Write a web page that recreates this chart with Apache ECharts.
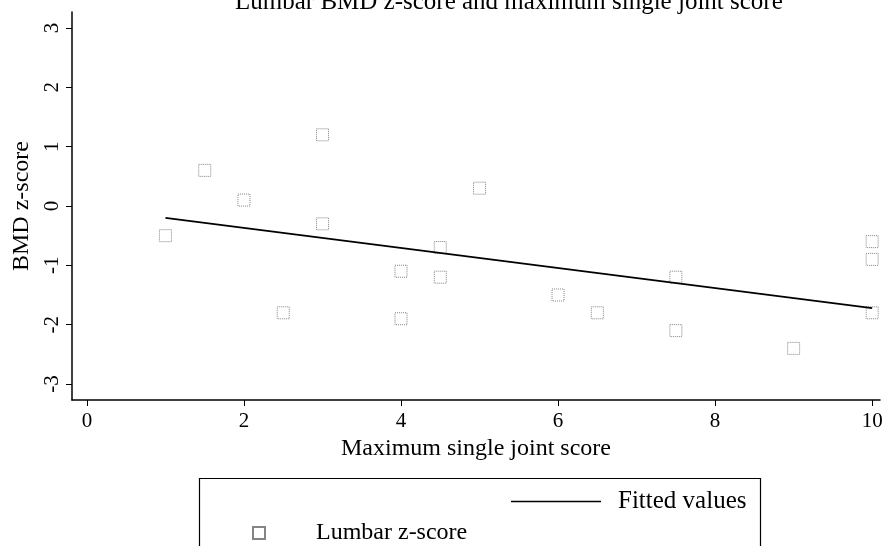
<!DOCTYPE html>
<html><head><meta charset="utf-8">
<script src="https://cdn.jsdelivr.net/npm/echarts@6/dist/echarts.min.js"></script>
<style>html,body{margin:0;padding:0;background:#fff}#c{width:887px;height:546px}</style>
</head><body><div id="c"></div>
<script>
const maxJointScore = [1, 1.5, 2, 2.5, 3, 3, 4, 4, 4.5, 4.5, 5, 6, 6.5, 7.5, 7.5, 9, 10, 10, 10];
const lumbarZ = [-0.5, 0.6, 0.1, -1.8, 1.2, -0.3, -1.1, -1.9, -0.7, -1.2, 0.3, -1.5, -1.8, -1.2, -2.1, -2.4, -0.6, -0.9, -1.8];
const fittedX = [1, 10];
const fittedY = [-0.2, -1.72];
const xTicks = [0, 2, 4, 6, 8, 10];
const yTicks = [-3, -2, -1, 0, 1, 2, 3];

const font = 'Liberation Serif';
const chart = echarts.init(document.getElementById('c'));
chart.setOption({
  animation: false,
  backgroundColor: '#fff',
  textStyle: { fontFamily: font, color: '#000' },
  title: {
    text: 'Lumbar BMD z-score and maximum single joint score',
    left: 230, top: -15,
    textStyle: { fontFamily: font, fontSize: 25, fontWeight: 'normal', color: '#000' }
  },
  grid: { left: 72, right: 7, top: 12, bottom: 146, containLabel: false, outerBoundsMode: 'none' },
  xAxis: {
    type: 'value', min: -0.19, max: 10.1,
    name: 'Maximum single joint score', nameLocation: 'middle', nameGap: 35,
    nameTextStyle: { fontFamily: font, fontSize: 24, color: '#000' },
    axisLine: { onZero: false, lineStyle: { color: '#000', width: 1.5 } },
    axisTick: { show: true, length: 6, lineStyle: { color: '#000' }, customValues: xTicks },
    axisLabel: { fontFamily: font, fontSize: 21, color: '#000', margin: 11, customValues: xTicks },
    splitLine: { show: false }
  },
  yAxis: {
    type: 'value', min: -3.27, max: 3.27,
    name: 'BMD z-score', nameLocation: 'middle', nameGap: 37,
    nameTextStyle: { fontFamily: font, fontSize: 24, color: '#000' },
    axisLine: { show: true, onZero: false, lineStyle: { color: '#000', width: 1.5 } },
    axisTick: { show: true, length: 6, lineStyle: { color: '#000' }, customValues: yTicks },
    axisLabel: { fontFamily: font, fontSize: 21, color: '#000', rotate: 90, margin: 9, customValues: yTicks },
    splitLine: { show: false }
  },
  legend: [
    {
      data: [{ name: 'Fitted values', icon: 'rect' }], left: 506, top: 484, itemWidth: 90, itemHeight: 1.5, itemGap: 8,
      itemStyle: { color: '#000' },
      textStyle: { fontFamily: font, fontSize: 25, color: '#000', padding: [0, 0, 0, 12] }
    },
    {
      data: [{ name: 'Lumbar z-score' }], left: 247, top: 516, itemWidth: 12, itemHeight: 12,
      textStyle: { fontFamily: font, fontSize: 24, color: '#000', padding: [0, 0, 0, 46] }
    }
  ],
  graphic: [
    { type: 'rect', left: 197, top: 476, shape: { width: 561, height: 80 }, style: { fill: 'none', stroke: '#000', lineWidth: 1.2 } }
  ],
  series: [
    {
      name: 'Lumbar z-score', type: 'scatter', symbol: 'rect', symbolSize: 12,
      itemStyle: { color: '#fff', borderColor: '#666', borderWidth: 1, borderType: 'dotted' },
      data: maxJointScore.map((x, i) => [x, lumbarZ[i]])
    },
    {
      name: 'Fitted values', type: 'line', symbol: 'none',
      lineStyle: { color: '#000', width: 1.8 },
      itemStyle: { color: '#000' },
      data: fittedX.map((x, i) => [x, fittedY[i]])
    }
  ]
});
</script></body></html>
